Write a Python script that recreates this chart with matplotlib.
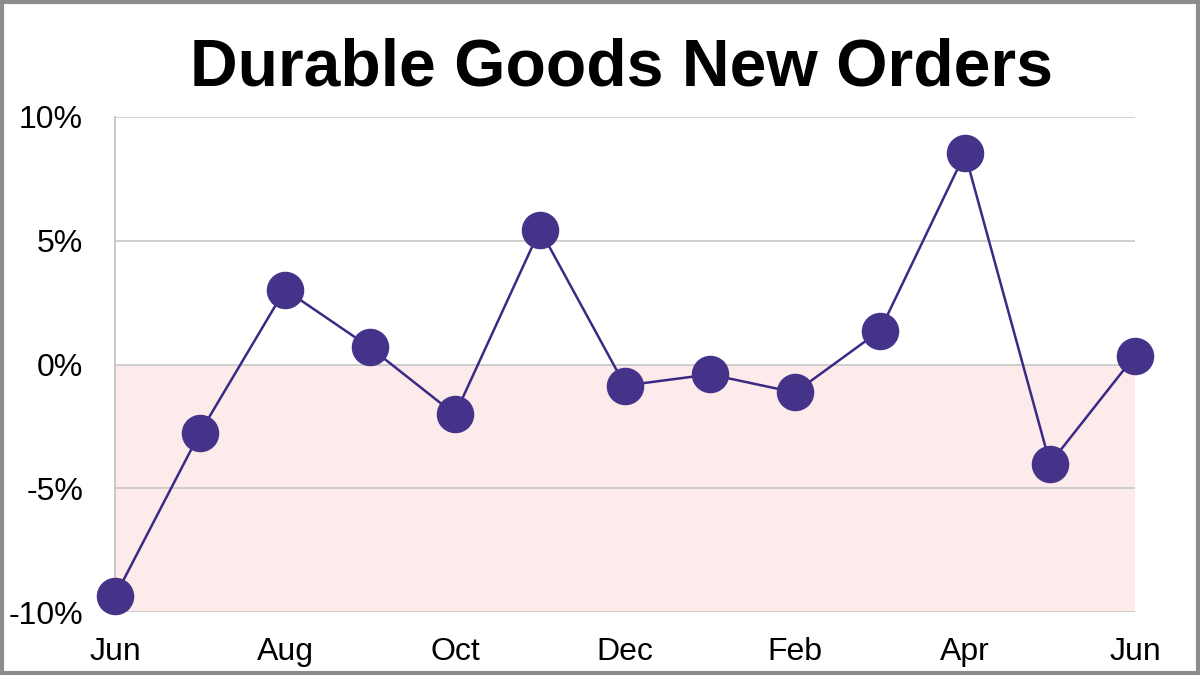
import matplotlib
matplotlib.use("Agg")
import matplotlib.pyplot as plt
from matplotlib.patches import Rectangle

months = ["Jun", "Jul", "Aug", "Sep", "Oct", "Nov", "Dec", "Jan", "Feb", "Mar", "Apr", "May", "Jun"]
values = [-9.37, -2.75, 3.03, 0.69, -2.02, 5.45, -0.85, -0.40, -1.13, 1.37, 8.53, -4.00, 0.36]
yticks = [-10, -5, 0, 5, 10]
ytick_labels = ["-10%", "-5%", "0%", "5%", "10%"]

plt.rcParams['font.family'] = ['Liberation Sans', 'DejaVu Sans']

fig = plt.figure(figsize=(12, 6.75), dpi=100)
ax = fig.add_axes([115/1200, 1 - 612/675, (1135 - 115)/1200, (612 - 117)/675])

x = list(range(len(months)))
ax.axhspan(-10, 0, color="#fdeaea", zorder=0, lw=0)
for yt in yticks:
    ax.axhline(yt, color="#c8c8c8", lw=1.2, zorder=1)
ax.plot(x, values, color="#3b2a85", lw=1.8, marker="o", markersize=26,
        markerfacecolor="#45338a", markeredgecolor="#45338a", zorder=3, clip_on=False)

ax.set_xlim(0, len(months) - 1)
ax.set_ylim(-10, 10)
ax.set_yticks(yticks)
ax.set_yticklabels(ytick_labels, fontsize=23)
ax.set_xticks(x[::2])
ax.set_xticklabels(months[::2], fontsize=23)
ax.tick_params(axis='both', length=0)
ax.tick_params(axis='y', pad=23)
ax.tick_params(axis='x', pad=18)
for s in ["top", "right", "bottom"]:
    ax.spines[s].set_visible(False)
ax.spines["left"].set_color("#c0c0c0")
ax.spines["left"].set_linewidth(1.2)

fig.text(621/1200, 1 - 86/675, "Durable Goods New Orders", ha="center", va="baseline",
         fontsize=47.5, fontweight="bold")

fig.patches.append(Rectangle((0.0015, 0.0025), 0.997, 0.995, transform=fig.transFigure,
                             fill=False, edgecolor="#8c8c8c", lw=3))

fig.savefig("out.png", dpi=100)
